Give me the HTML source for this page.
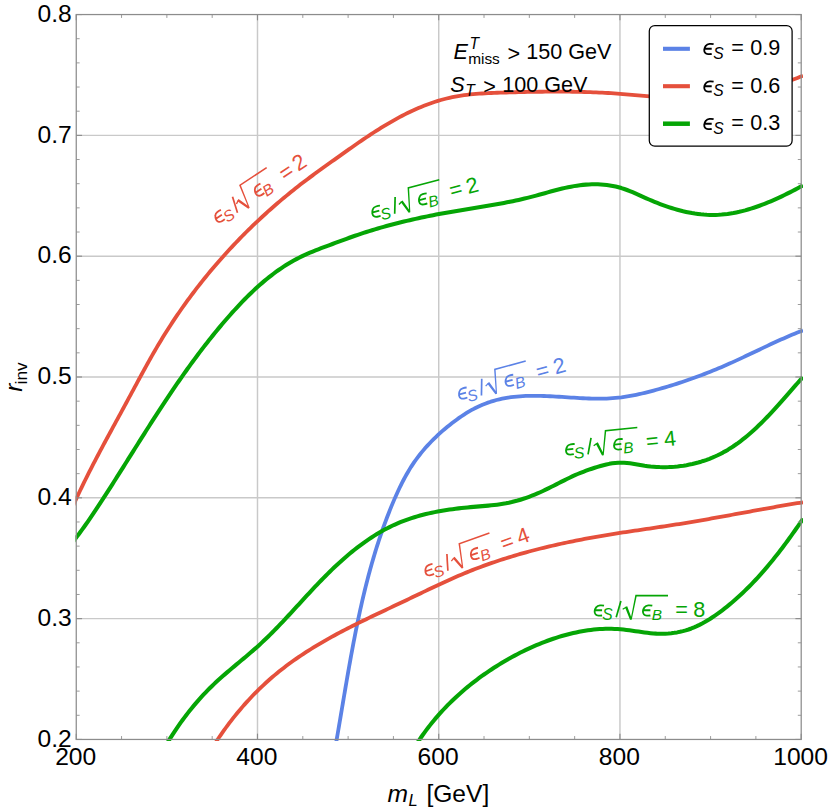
<!DOCTYPE html>
<html><head><meta charset="utf-8"><title>plot</title>
<style>
html,body{margin:0;padding:0;background:#fff;}
body{width:830px;height:812px;overflow:hidden;}
svg{display:block;}
text{font-family:"Liberation Sans",sans-serif;}
.it{font-style:italic;}
</style></head><body>
<svg width="830" height="812" viewBox="0 0 830 812">
<rect width="830" height="812" fill="#fff"/>
<defs><clipPath id="cp"><rect x="75.45" y="14.25" width="727.55" height="726.70"/></clipPath>
<path id="eps" d="M0.524,-0.504C0.46,-0.517 0.40,-0.52 0.335,-0.515C0.26,-0.51 0.20,-0.48 0.167,-0.433C0.12,-0.37 0.092,-0.31 0.089,-0.243C0.087,-0.18 0.10,-0.13 0.134,-0.098C0.165,-0.065 0.21,-0.047 0.268,-0.042C0.33,-0.037 0.39,-0.04 0.435,-0.047M0.123,-0.288L0.435,-0.288" fill="none" stroke-width="0.084" stroke-linecap="butt" stroke-linejoin="round"/>
</defs>
<g stroke="#c9c9c9" stroke-width="1.45" fill="none"><line x1="257.49" y1="14.55" x2="257.49" y2="739.45"/><line x1="438.73" y1="14.55" x2="438.73" y2="739.45"/><line x1="619.96" y1="14.55" x2="619.96" y2="739.45"/><line x1="76.25" y1="618.63" x2="801.2" y2="618.63"/><line x1="76.25" y1="497.82" x2="801.2" y2="497.82"/><line x1="76.25" y1="377.00" x2="801.2" y2="377.00"/><line x1="76.25" y1="256.18" x2="801.2" y2="256.18"/><line x1="76.25" y1="135.37" x2="801.2" y2="135.37"/></g>
<g clip-path="url(#cp)" fill="none" stroke-linecap="butt" stroke-linejoin="round">
<path d="M70.18,512.39L71.38,509.64L72.59,506.89L73.82,504.15L75.06,501.42L76.31,498.69L77.57,495.97L78.84,493.26L80.13,490.55L81.42,487.84L82.73,485.14L84.04,482.45L85.37,479.76L86.70,477.08L88.05,474.40L89.40,471.72L90.76,469.05L92.13,466.38L93.50,463.72L94.88,461.06L96.27,458.40L97.67,455.75L99.07,453.10L100.47,450.45L101.88,447.80L103.29,445.16L104.71,442.52L106.13,439.88L107.56,437.24L108.98,434.60L110.41,431.97L111.85,429.33L113.28,426.70L114.71,424.07L116.15,421.43L117.58,418.80L119.02,416.17L120.45,413.54L121.89,410.90L123.32,408.27L124.75,405.63L126.18,403.00L127.61,400.36L129.03,397.72L130.45,395.09L131.87,392.45L133.29,389.81L134.71,387.17L136.13,384.53L137.55,381.89L138.98,379.25L140.41,376.62L141.84,373.98L143.27,371.35L144.71,368.73L146.16,366.10L147.61,363.48L149.07,360.87L150.54,358.26L152.02,355.65L153.51,353.05L155.00,350.46L156.51,347.87L158.03,345.29L159.57,342.71L161.12,340.15L162.68,337.59L164.25,335.04L165.84,332.49L167.45,329.96L169.06,327.43L170.69,324.92L172.34,322.41L174.00,319.91L175.67,317.41L177.35,314.93L179.05,312.46L180.76,309.99L182.49,307.53L184.23,305.09L185.98,302.65L187.74,300.22L189.52,297.80L191.31,295.39L193.11,292.99L194.93,290.60L196.75,288.22L198.59,285.84L200.45,283.48L202.31,281.13L204.19,278.79L206.08,276.46L207.98,274.14L209.89,271.83L211.82,269.53L213.75,267.24L215.70,264.96L217.66,262.69L219.64,260.43L221.62,258.18L223.62,255.94L225.62,253.71L227.64,251.50L229.67,249.29L231.71,247.09L233.77,244.91L235.83,242.74L237.91,240.57L239.99,238.42L242.09,236.28L244.20,234.15L246.32,232.03L248.45,229.92L250.59,227.83L252.75,225.74L254.91,223.67L257.08,221.60L259.27,219.55L261.46,217.51L263.67,215.48L265.89,213.47L268.11,211.46L270.35,209.47L272.60,207.48L274.85,205.51L277.12,203.56L279.40,201.61L281.69,199.67L283.99,197.75L286.29,195.84L288.61,193.94L290.94,192.05L293.28,190.18L295.62,188.31L297.98,186.46L300.34,184.62L302.72,182.80L305.10,180.98L307.50,179.18L309.90,177.38L312.31,175.60L314.72,173.83L317.14,172.06L319.57,170.30L322.00,168.54L324.43,166.80L326.87,165.05L329.31,163.31L331.75,161.57L334.19,159.83L336.63,158.09L339.08,156.35L341.52,154.62L343.96,152.88L346.40,151.15L348.85,149.42L351.30,147.69L353.76,145.97L356.22,144.26L358.68,142.55L361.16,140.85L363.64,139.16L366.13,137.48L368.63,135.82L371.14,134.16L373.67,132.52L376.20,130.90L378.75,129.29L381.30,127.69L383.87,126.12L386.46,124.57L389.05,123.04L391.66,121.53L394.28,120.05L396.91,118.59L399.55,117.17L402.21,115.77L404.88,114.40L407.56,113.06L410.26,111.76L412.97,110.49L415.69,109.26L418.42,108.07L421.17,106.91L423.94,105.80L426.71,104.72L429.50,103.69L432.31,102.71L435.13,101.77L437.96,100.88L440.81,100.04L443.67,99.24L446.54,98.50L449.43,97.82L452.34,97.19L455.26,96.61L458.19,96.09L461.14,95.62L464.10,95.19L467.07,94.82L470.05,94.48L473.04,94.18L476.04,93.91L479.04,93.68L482.05,93.48L485.07,93.30L488.08,93.14L491.10,93.00L494.13,92.88L497.15,92.77L500.17,92.66L503.19,92.57L506.21,92.48L509.22,92.39L512.24,92.31L515.25,92.23L518.26,92.15L521.27,92.08L524.27,92.01L527.28,91.95L530.28,91.90L533.28,91.85L536.28,91.80L539.28,91.76L542.28,91.73L545.28,91.70L548.27,91.68L551.27,91.67L554.26,91.66L557.26,91.66L560.25,91.66L563.24,91.67L566.24,91.70L569.23,91.72L572.22,91.76L575.21,91.81L578.20,91.86L581.19,91.93L584.18,92.00L587.17,92.09L590.16,92.18L593.15,92.29L596.14,92.41L599.13,92.54L602.12,92.68L605.10,92.84L608.09,93.01L611.08,93.19L614.07,93.39L617.05,93.59L620.04,93.82L623.03,94.06L626.02,94.31L629.00,94.56L631.99,94.83L634.98,95.10L637.97,95.36L640.96,95.63L643.95,95.89L646.95,96.14L649.94,96.38L652.94,96.61L655.93,96.82L658.93,97.02L661.93,97.20L664.93,97.37L667.93,97.51L670.93,97.64L673.93,97.75L676.93,97.85L679.94,97.92L682.94,97.97L685.94,98.00L688.93,98.01L691.93,97.99L694.93,97.95L697.92,97.89L700.92,97.80L703.91,97.69L706.90,97.55L709.89,97.39L712.87,97.20L715.86,96.98L718.84,96.73L721.82,96.45L724.79,96.15L727.76,95.81L730.73,95.44L733.69,95.04L736.65,94.61L739.61,94.14L742.56,93.64L745.50,93.11L748.45,92.54L751.38,91.93L754.31,91.29L757.24,90.61L760.16,89.90L763.07,89.16L765.98,88.38L768.88,87.58L771.77,86.74L774.66,85.87L777.54,84.97L780.40,84.04L783.26,83.09L786.11,82.11L788.95,81.10L791.78,80.06L794.60,79.01L797.41,77.93L800.21,76.82L803.00,75.69" stroke="#e5503c" stroke-width="3.8"/>
<path d="M69.78,545.85L71.65,543.50L73.51,541.14L75.34,538.76L77.15,536.37L78.94,533.97L80.72,531.56L82.48,529.14L84.22,526.70L85.95,524.26L87.67,521.81L89.37,519.35L91.06,516.88L92.74,514.40L94.41,511.92L96.07,509.43L97.72,506.93L99.36,504.43L101.00,501.92L102.63,499.41L104.26,496.90L105.89,494.38L107.51,491.86L109.12,489.34L110.74,486.82L112.35,484.29L113.96,481.76L115.56,479.23L117.17,476.70L118.77,474.16L120.37,471.63L121.97,469.09L123.57,466.56L125.17,464.02L126.77,461.48L128.36,458.94L129.96,456.40L131.55,453.86L133.15,451.32L134.75,448.79L136.35,446.25L137.94,443.71L139.55,441.17L141.15,438.64L142.75,436.11L144.36,433.57L145.96,431.04L147.57,428.51L149.18,425.99L150.80,423.46L152.42,420.94L154.04,418.42L155.67,415.90L157.30,413.39L158.93,410.87L160.57,408.37L162.21,405.86L163.86,403.36L165.51,400.86L167.17,398.36L168.83,395.87L170.50,393.39L172.17,390.90L173.85,388.43L175.54,385.95L177.23,383.48L178.94,381.02L180.64,378.56L182.36,376.11L184.08,373.66L185.81,371.22L187.55,368.78L189.30,366.35L191.06,363.93L192.82,361.51L194.59,359.10L196.38,356.69L198.17,354.29L199.97,351.90L201.79,349.52L203.61,347.14L205.44,344.77L207.29,342.41L209.14,340.06L211.01,337.71L212.89,335.37L214.77,333.04L216.68,330.72L218.59,328.41L220.51,326.10L222.45,323.81L224.40,321.52L226.37,319.24L228.35,316.98L230.34,314.72L232.34,312.47L234.36,310.24L236.40,308.02L238.45,305.81L240.52,303.62L242.60,301.44L244.70,299.28L246.82,297.15L248.96,295.03L251.11,292.94L253.29,290.87L255.48,288.82L257.70,286.80L259.94,284.81L262.20,282.85L264.48,280.92L266.78,279.01L269.11,277.14L271.46,275.31L273.83,273.51L276.23,271.74L278.66,270.02L281.11,268.33L283.59,266.68L286.09,265.08L288.63,263.51L291.19,262.00L293.78,260.52L296.39,259.10L299.04,257.72L301.72,256.39L304.43,255.11L307.17,253.88L309.93,252.68L312.71,251.53L315.51,250.40L318.33,249.31L321.15,248.23L323.98,247.16L326.81,246.11L329.64,245.05L332.46,244.00L335.28,242.95L338.10,241.90L340.91,240.85L343.72,239.81L346.54,238.78L349.36,237.76L352.18,236.76L355.00,235.77L357.83,234.80L360.67,233.85L363.52,232.91L366.36,232.00L369.22,231.10L372.08,230.22L374.94,229.35L377.81,228.50L380.69,227.67L383.57,226.86L386.45,226.06L389.34,225.27L392.24,224.50L395.14,223.75L398.04,223.01L400.94,222.29L403.85,221.58L406.77,220.88L409.69,220.20L412.61,219.53L415.53,218.87L418.46,218.23L421.39,217.59L424.32,216.97L427.26,216.37L430.19,215.77L433.13,215.19L436.08,214.61L439.02,214.05L441.97,213.50L444.92,212.96L447.87,212.43L450.82,211.90L453.78,211.39L456.73,210.89L459.69,210.39L462.64,209.90L465.60,209.42L468.56,208.94L471.52,208.46L474.47,207.98L477.43,207.50L480.39,207.02L483.34,206.53L486.30,206.04L489.25,205.55L492.20,205.04L495.15,204.53L498.10,204.00L501.04,203.47L503.99,202.92L506.93,202.35L509.86,201.77L512.80,201.17L515.73,200.55L518.65,199.92L521.57,199.26L524.49,198.57L527.40,197.87L530.31,197.13L533.21,196.37L536.11,195.59L539.01,194.80L541.90,193.99L544.80,193.18L547.69,192.37L550.59,191.57L553.49,190.79L556.39,190.02L559.30,189.27L562.22,188.56L565.14,187.88L568.07,187.25L571.01,186.66L573.96,186.12L576.92,185.64L579.89,185.23L582.88,184.88L585.88,184.61L588.88,184.41L591.89,184.30L594.89,184.26L597.89,184.30L600.89,184.44L603.88,184.66L606.85,184.98L609.80,185.39L612.74,185.90L615.65,186.51L618.54,187.23L621.40,188.05L624.23,188.98L627.03,189.99L629.81,191.07L632.58,192.22L635.33,193.40L638.07,194.61L640.80,195.84L643.53,197.07L646.26,198.29L649.00,199.50L651.75,200.68L654.51,201.84L657.30,202.97L660.11,204.07L662.93,205.12L665.78,206.14L668.64,207.12L671.51,208.05L674.40,208.93L677.31,209.76L680.22,210.54L683.15,211.27L686.09,211.93L689.03,212.54L691.99,213.09L694.94,213.57L697.91,213.98L700.87,214.33L703.84,214.60L706.81,214.80L709.79,214.92L712.76,214.96L715.72,214.92L718.69,214.79L721.65,214.59L724.60,214.30L727.56,213.95L730.50,213.51L733.44,213.01L736.37,212.44L739.30,211.81L742.21,211.11L745.12,210.36L748.01,209.54L750.90,208.68L753.78,207.76L756.64,206.79L759.49,205.78L762.33,204.72L765.15,203.62L767.97,202.49L770.76,201.32L773.54,200.11L776.31,198.88L779.06,197.62L781.79,196.33L784.50,195.02L787.19,193.69L789.87,192.34L792.52,190.98L795.16,189.61L797.77,188.23L800.36,186.84L802.93,185.45" stroke="#05a505" stroke-width="4.05"/>
<path d="M335.72,744.91L336.24,741.99L336.75,739.07L337.26,736.15L337.76,733.22L338.27,730.29L338.77,727.36L339.27,724.43L339.77,721.49L340.27,718.56L340.76,715.62L341.26,712.68L341.76,709.74L342.25,706.80L342.75,703.85L343.24,700.91L343.74,697.96L344.24,695.02L344.74,692.07L345.24,689.12L345.74,686.18L346.25,683.23L346.75,680.28L347.26,677.33L347.78,674.38L348.29,671.43L348.81,668.49L349.33,665.54L349.86,662.59L350.39,659.64L350.92,656.69L351.46,653.75L352.01,650.80L352.55,647.86L353.11,644.91L353.67,641.97L354.24,639.03L354.81,636.09L355.39,633.15L355.97,630.22L356.56,627.28L357.16,624.35L357.77,621.41L358.39,618.48L359.01,615.56L359.64,612.63L360.28,609.71L360.93,606.79L361.58,603.87L362.25,600.95L362.93,598.04L363.61,595.13L364.31,592.22L365.02,589.32L365.73,586.42L366.46,583.52L367.20,580.62L367.95,577.73L368.71,574.84L369.49,571.96L370.28,569.08L371.07,566.20L371.89,563.33L372.71,560.46L373.55,557.60L374.40,554.74L375.26,551.89L376.14,549.04L377.04,546.19L377.95,543.35L378.87,540.51L379.81,537.68L380.76,534.85L381.73,532.03L382.71,529.22L383.71,526.41L384.73,523.60L385.76,520.80L386.81,518.01L387.88,515.22L388.97,512.44L390.07,509.67L391.19,506.90L392.33,504.13L393.49,501.38L394.66,498.63L395.86,495.89L397.09,493.16L398.34,490.45L399.62,487.75L400.93,485.06L402.27,482.39L403.64,479.75L405.06,477.12L406.51,474.52L408.00,471.94L409.53,469.39L411.10,466.87L412.73,464.38L414.40,461.91L416.12,459.48L417.89,457.09L419.71,454.73L421.57,452.40L423.49,450.11L425.44,447.84L427.44,445.62L429.48,443.42L431.56,441.26L433.68,439.13L435.84,437.04L438.03,434.98L440.25,432.95L442.50,430.95L444.79,428.98L447.10,427.05L449.44,425.15L451.81,423.28L454.20,421.45L456.63,419.66L459.07,417.91L461.55,416.21L464.05,414.56L466.59,412.97L469.15,411.43L471.75,409.96L474.37,408.55L477.03,407.22L479.72,405.96L482.44,404.78L485.19,403.67L487.97,402.64L490.77,401.69L493.60,400.82L496.45,400.03L499.32,399.32L502.21,398.68L505.12,398.12L508.04,397.63L510.97,397.20L513.92,396.85L516.88,396.55L519.86,396.30L522.84,396.11L525.83,395.97L528.83,395.88L531.83,395.83L534.85,395.82L537.86,395.85L540.88,395.91L543.90,395.99L546.92,396.11L549.94,396.24L552.96,396.40L555.98,396.57L558.99,396.75L562.00,396.94L565.01,397.14L568.01,397.33L571.01,397.53L574.00,397.72L576.99,397.90L579.98,398.07L582.96,398.23L585.94,398.37L588.92,398.48L591.89,398.57L594.86,398.63L597.83,398.66L600.79,398.66L603.75,398.61L606.70,398.53L609.66,398.40L612.61,398.22L615.55,397.98L618.50,397.69L621.44,397.35L624.37,396.94L627.31,396.48L630.24,395.97L633.16,395.42L636.08,394.82L639.00,394.18L641.92,393.51L644.83,392.81L647.73,392.09L650.63,391.34L653.53,390.58L656.42,389.79L659.30,388.99L662.18,388.17L665.06,387.34L667.93,386.49L670.79,385.62L673.65,384.73L676.50,383.83L679.35,382.90L682.19,381.97L685.03,381.01L687.86,380.04L690.68,379.06L693.50,378.05L696.31,377.03L699.11,376.00L701.91,374.95L704.70,373.88L707.49,372.80L710.27,371.70L713.04,370.58L715.81,369.45L718.56,368.31L721.32,367.15L724.06,365.97L726.80,364.78L729.53,363.58L732.25,362.36L734.97,361.12L737.68,359.88L740.38,358.62L743.09,357.36L745.79,356.09L748.48,354.81L751.18,353.53L753.87,352.25L756.56,350.97L759.26,349.68L761.95,348.40L764.65,347.12L767.35,345.85L770.05,344.58L772.75,343.32L775.47,342.07L778.18,340.83L780.91,339.60L783.64,338.39L786.38,337.19L789.12,336.01L791.88,334.84L794.65,333.70L797.43,332.58L800.22,331.48L803.02,330.40" stroke="#5b82e6" stroke-width="3.8"/>
<path d="M166.08,745.08L167.63,742.50L169.20,739.93L170.80,737.38L172.41,734.85L174.05,732.33L175.71,729.84L177.40,727.36L179.10,724.89L180.83,722.45L182.59,720.03L184.37,717.63L186.17,715.24L187.99,712.88L189.84,710.53L191.71,708.21L193.61,705.91L195.53,703.63L197.48,701.37L199.45,699.14L201.45,696.92L203.47,694.73L205.52,692.56L207.59,690.42L209.69,688.30L211.82,686.20L213.97,684.13L216.15,682.08L218.35,680.06L220.58,678.05L222.82,676.07L225.08,674.10L227.36,672.14L229.64,670.20L231.94,668.26L234.24,666.33L236.55,664.41L238.86,662.48L241.17,660.56L243.48,658.63L245.78,656.70L248.07,654.77L250.36,652.82L252.63,650.86L254.88,648.89L257.12,646.90L259.34,644.89L261.54,642.87L263.72,640.82L265.88,638.76L268.02,636.68L270.15,634.59L272.26,632.49L274.36,630.37L276.44,628.24L278.52,626.09L280.58,623.94L282.63,621.78L284.68,619.61L286.72,617.43L288.75,615.25L290.78,613.06L292.80,610.87L294.82,608.67L296.84,606.47L298.86,604.27L300.87,602.07L302.89,599.87L304.92,597.67L306.94,595.48L308.97,593.28L311.01,591.09L313.05,588.91L315.10,586.73L317.16,584.56L319.23,582.40L321.32,580.24L323.41,578.10L325.52,575.97L327.64,573.85L329.78,571.74L331.93,569.65L334.11,567.57L336.30,565.51L338.51,563.46L340.74,561.44L342.98,559.43L345.25,557.45L347.53,555.49L349.84,553.55L352.16,551.64L354.50,549.76L356.87,547.91L359.25,546.09L361.66,544.29L364.08,542.54L366.53,540.81L369.00,539.13L371.49,537.48L374.00,535.86L376.53,534.29L379.09,532.76L381.66,531.28L384.27,529.84L386.89,528.44L389.54,527.09L392.21,525.79L394.90,524.54L397.62,523.34L400.36,522.19L403.12,521.10L405.91,520.05L408.72,519.06L411.54,518.11L414.39,517.21L417.26,516.36L420.14,515.55L423.03,514.78L425.94,514.06L428.87,513.37L431.80,512.72L434.75,512.11L437.70,511.54L440.67,510.99L443.64,510.48L446.61,510.01L449.60,509.56L452.58,509.14L455.57,508.74L458.56,508.37L461.55,508.03L464.54,507.70L467.52,507.40L470.51,507.12L473.49,506.86L476.46,506.61L479.43,506.36L482.39,506.12L485.35,505.87L488.30,505.61L491.25,505.32L494.20,505.00L497.14,504.64L500.07,504.24L503.00,503.79L505.93,503.28L508.85,502.70L511.77,502.05L514.68,501.33L517.59,500.55L520.48,499.70L523.36,498.79L526.22,497.82L529.07,496.80L531.89,495.73L534.69,494.61L537.47,493.44L540.23,492.23L542.95,490.98L545.65,489.70L548.33,488.39L551.00,487.06L553.65,485.71L556.30,484.36L558.95,483.01L561.59,481.66L564.25,480.32L566.91,478.99L569.58,477.70L572.27,476.43L574.99,475.20L577.73,474.01L580.50,472.86L583.29,471.76L586.11,470.70L588.95,469.68L591.81,468.71L594.69,467.78L597.58,466.89L600.49,466.04L603.42,465.24L606.35,464.51L609.29,463.87L612.24,463.36L615.19,462.98L618.15,462.75L621.10,462.67L624.05,462.72L627.00,462.90L629.95,463.21L632.89,463.65L635.82,464.18L638.76,464.75L641.71,465.29L644.68,465.77L647.65,466.17L650.63,466.51L653.63,466.77L656.62,466.97L659.63,467.10L662.63,467.16L665.63,467.15L668.64,467.07L671.63,466.92L674.63,466.71L677.61,466.43L680.59,466.07L683.56,465.65L686.51,465.16L689.45,464.60L692.38,463.98L695.28,463.28L698.17,462.52L701.03,461.69L703.87,460.79L706.68,459.82L709.47,458.78L712.23,457.68L714.95,456.50L717.65,455.26L720.30,453.95L722.93,452.58L725.52,451.14L728.07,449.64L730.59,448.08L733.08,446.46L735.54,444.78L737.97,443.06L740.37,441.28L742.74,439.46L745.08,437.60L747.40,435.69L749.69,433.74L751.96,431.75L754.20,429.73L756.42,427.67L758.61,425.59L760.79,423.48L762.94,421.34L765.08,419.18L767.19,417.00L769.29,414.80L771.37,412.59L773.43,410.36L775.48,408.12L777.51,405.88L779.53,403.63L781.53,401.37L783.52,399.12L785.51,396.86L787.48,394.61L789.44,392.37L791.39,390.13L793.34,387.91L795.27,385.70L797.21,383.51L799.13,381.33L801.05,379.18L802.97,377.05" stroke="#05a505" stroke-width="4.05"/>
<path d="M214.06,745.06L215.67,742.54L217.31,740.04L218.97,737.55L220.65,735.08L222.36,732.62L224.09,730.18L225.84,727.75L227.62,725.33L229.42,722.93L231.24,720.55L233.09,718.19L234.96,715.84L236.85,713.51L238.76,711.20L240.70,708.90L242.66,706.63L244.64,704.38L246.65,702.14L248.68,699.93L250.73,697.73L252.80,695.56L254.89,693.41L257.00,691.29L259.14,689.18L261.29,687.10L263.47,685.04L265.67,683.01L267.89,681.00L270.13,679.02L272.39,677.06L274.68,675.13L276.98,673.22L279.30,671.34L281.64,669.49L284.00,667.66L286.38,665.85L288.77,664.06L291.19,662.30L293.62,660.57L296.06,658.85L298.52,657.16L301.00,655.48L303.49,653.83L305.99,652.20L308.51,650.59L311.04,649.00L313.58,647.42L316.14,645.87L318.70,644.33L321.28,642.81L323.87,641.31L326.46,639.82L329.07,638.36L331.68,636.90L334.31,635.46L336.94,634.04L339.58,632.63L342.22,631.24L344.87,629.85L347.53,628.48L350.19,627.13L352.86,625.78L355.54,624.44L358.21,623.11L360.90,621.79L363.58,620.48L366.28,619.17L368.97,617.87L371.67,616.58L374.37,615.29L377.07,614.01L379.78,612.72L382.48,611.44L385.19,610.17L387.90,608.89L390.61,607.61L393.32,606.34L396.03,605.06L398.74,603.78L401.45,602.50L404.16,601.21L406.86,599.92L409.57,598.63L412.27,597.33L414.98,596.03L417.68,594.74L420.39,593.44L423.09,592.14L425.80,590.84L428.50,589.55L431.21,588.27L433.92,586.98L436.64,585.71L439.35,584.44L442.07,583.18L444.80,581.93L447.52,580.69L450.25,579.46L452.99,578.24L455.73,577.03L458.47,575.84L461.22,574.67L463.98,573.51L466.74,572.37L469.51,571.24L472.29,570.14L475.07,569.05L477.86,567.98L480.66,566.93L483.46,565.90L486.27,564.88L489.09,563.88L491.91,562.89L494.73,561.93L497.56,560.98L500.40,560.04L503.24,559.12L506.09,558.22L508.94,557.33L511.80,556.46L514.66,555.60L517.53,554.76L520.40,553.93L523.28,553.12L526.16,552.32L529.05,551.53L531.94,550.76L534.83,550.00L537.73,549.26L540.63,548.53L543.53,547.81L546.44,547.10L549.35,546.41L552.27,545.73L555.19,545.06L558.11,544.40L561.03,543.75L563.96,543.12L566.89,542.50L569.82,541.88L572.76,541.28L575.70,540.69L578.64,540.11L581.58,539.54L584.52,538.98L587.47,538.43L590.42,537.89L593.36,537.36L596.31,536.83L599.27,536.32L602.22,535.81L605.17,535.32L608.13,534.83L611.09,534.35L614.04,533.87L617.00,533.41L619.96,532.94L622.92,532.49L625.88,532.03L628.84,531.59L631.80,531.14L634.76,530.70L637.72,530.26L640.68,529.82L643.64,529.38L646.61,528.95L649.57,528.51L652.53,528.07L655.49,527.64L658.45,527.20L661.41,526.75L664.37,526.31L667.33,525.86L670.29,525.41L673.24,524.95L676.20,524.49L679.15,524.02L682.11,523.54L685.06,523.06L688.02,522.57L690.97,522.08L693.92,521.58L696.87,521.08L699.82,520.57L702.77,520.05L705.72,519.54L708.66,519.02L711.61,518.49L714.56,517.97L717.50,517.44L720.45,516.90L723.40,516.37L726.34,515.83L729.29,515.29L732.23,514.75L735.18,514.21L738.12,513.67L741.07,513.13L744.01,512.59L746.96,512.05L749.90,511.51L752.85,510.97L755.79,510.43L758.74,509.90L761.68,509.36L764.63,508.83L767.58,508.31L770.53,507.78L773.47,507.26L776.42,506.74L779.37,506.23L782.32,505.72L785.27,505.21L788.23,504.71L791.18,504.21L794.13,503.72L797.09,503.24L800.04,502.76L803.00,502.29" stroke="#e5503c" stroke-width="3.8"/>
<path d="M415.93,745.10L417.58,742.54L419.26,740.00L420.96,737.50L422.69,735.02L424.45,732.57L426.24,730.14L428.06,727.74L429.90,725.37L431.77,723.02L433.67,720.70L435.59,718.41L437.54,716.15L439.52,713.91L441.52,711.69L443.54,709.50L445.60,707.34L447.67,705.21L449.77,703.10L451.90,701.01L454.04,698.96L456.21,696.92L458.41,694.92L460.63,692.94L462.87,690.98L465.13,689.05L467.42,687.14L469.72,685.26L472.05,683.41L474.40,681.57L476.77,679.77L479.16,677.99L481.57,676.23L484.00,674.50L486.46,672.79L488.93,671.11L491.42,669.45L493.93,667.81L496.45,666.20L499.00,664.62L501.57,663.05L504.15,661.51L506.75,660.00L509.37,658.51L512.00,657.05L514.65,655.61L517.31,654.20L520.00,652.82L522.69,651.47L525.40,650.15L528.13,648.85L530.86,647.60L533.62,646.37L536.38,645.18L539.16,644.02L541.95,642.89L544.75,641.80L547.56,640.75L550.38,639.73L553.22,638.76L556.06,637.82L558.91,636.92L561.77,636.06L564.64,635.25L567.52,634.47L570.41,633.74L573.30,633.05L576.21,632.41L579.11,631.81L582.03,631.27L584.95,630.77L587.88,630.33L590.82,629.94L593.76,629.60L596.70,629.32L599.66,629.10L602.62,628.93L605.58,628.83L608.55,628.79L611.52,628.82L614.50,628.91L617.48,629.07L620.47,629.29L623.46,629.59L626.45,629.94L629.45,630.32L632.45,630.74L635.44,631.18L638.44,631.61L641.44,632.04L644.44,632.45L647.44,632.82L650.44,633.15L653.43,633.42L656.42,633.61L659.41,633.72L662.39,633.74L665.36,633.66L668.32,633.49L671.27,633.22L674.20,632.85L677.11,632.38L680.01,631.81L682.88,631.13L685.72,630.35L688.53,629.47L691.32,628.48L694.07,627.38L696.79,626.18L699.47,624.90L702.13,623.53L704.76,622.08L707.35,620.55L709.91,618.97L712.45,617.32L714.95,615.62L717.43,613.88L719.87,612.09L722.29,610.27L724.68,608.42L727.04,606.55L729.38,604.65L731.69,602.72L733.97,600.77L736.22,598.79L738.46,596.79L740.66,594.77L742.85,592.73L745.00,590.66L747.14,588.57L749.25,586.46L751.35,584.32L753.42,582.17L755.47,580.00L757.50,577.81L759.50,575.60L761.49,573.38L763.47,571.14L765.42,568.88L767.35,566.60L769.27,564.31L771.17,562.01L773.06,559.69L774.92,557.36L776.78,555.01L778.62,552.66L780.44,550.29L782.25,547.91L784.05,545.51L785.84,543.11L787.61,540.70L789.37,538.28L791.12,535.85L792.86,533.42L794.59,530.98L796.31,528.53L798.02,526.07L799.73,523.61L801.42,521.14L803.11,518.67" stroke="#05a505" stroke-width="4.05"/>
</g>
<g stroke="#9c9c9c" stroke-width="1.0" fill="none"><line x1="121.56" y1="739.45" x2="121.56" y2="736.05"/><line x1="121.56" y1="14.55" x2="121.56" y2="17.95"/><line x1="166.87" y1="739.45" x2="166.87" y2="736.05"/><line x1="166.87" y1="14.55" x2="166.87" y2="17.95"/><line x1="212.18" y1="739.45" x2="212.18" y2="736.05"/><line x1="212.18" y1="14.55" x2="212.18" y2="17.95"/><line x1="302.80" y1="739.45" x2="302.80" y2="736.05"/><line x1="302.80" y1="14.55" x2="302.80" y2="17.95"/><line x1="348.11" y1="739.45" x2="348.11" y2="736.05"/><line x1="348.11" y1="14.55" x2="348.11" y2="17.95"/><line x1="393.42" y1="739.45" x2="393.42" y2="736.05"/><line x1="393.42" y1="14.55" x2="393.42" y2="17.95"/><line x1="484.03" y1="739.45" x2="484.03" y2="736.05"/><line x1="484.03" y1="14.55" x2="484.03" y2="17.95"/><line x1="529.34" y1="739.45" x2="529.34" y2="736.05"/><line x1="529.34" y1="14.55" x2="529.34" y2="17.95"/><line x1="574.65" y1="739.45" x2="574.65" y2="736.05"/><line x1="574.65" y1="14.55" x2="574.65" y2="17.95"/><line x1="665.27" y1="739.45" x2="665.27" y2="736.05"/><line x1="665.27" y1="14.55" x2="665.27" y2="17.95"/><line x1="710.58" y1="739.45" x2="710.58" y2="736.05"/><line x1="710.58" y1="14.55" x2="710.58" y2="17.95"/><line x1="755.89" y1="739.45" x2="755.89" y2="736.05"/><line x1="755.89" y1="14.55" x2="755.89" y2="17.95"/><line x1="76.25" y1="715.29" x2="79.65" y2="715.29"/><line x1="801.2" y1="715.29" x2="797.80" y2="715.29"/><line x1="76.25" y1="691.12" x2="79.65" y2="691.12"/><line x1="801.2" y1="691.12" x2="797.80" y2="691.12"/><line x1="76.25" y1="666.96" x2="79.65" y2="666.96"/><line x1="801.2" y1="666.96" x2="797.80" y2="666.96"/><line x1="76.25" y1="642.80" x2="79.65" y2="642.80"/><line x1="801.2" y1="642.80" x2="797.80" y2="642.80"/><line x1="76.25" y1="594.47" x2="79.65" y2="594.47"/><line x1="801.2" y1="594.47" x2="797.80" y2="594.47"/><line x1="76.25" y1="570.31" x2="79.65" y2="570.31"/><line x1="801.2" y1="570.31" x2="797.80" y2="570.31"/><line x1="76.25" y1="546.14" x2="79.65" y2="546.14"/><line x1="801.2" y1="546.14" x2="797.80" y2="546.14"/><line x1="76.25" y1="521.98" x2="79.65" y2="521.98"/><line x1="801.2" y1="521.98" x2="797.80" y2="521.98"/><line x1="76.25" y1="473.65" x2="79.65" y2="473.65"/><line x1="801.2" y1="473.65" x2="797.80" y2="473.65"/><line x1="76.25" y1="449.49" x2="79.65" y2="449.49"/><line x1="801.2" y1="449.49" x2="797.80" y2="449.49"/><line x1="76.25" y1="425.33" x2="79.65" y2="425.33"/><line x1="801.2" y1="425.33" x2="797.80" y2="425.33"/><line x1="76.25" y1="401.16" x2="79.65" y2="401.16"/><line x1="801.2" y1="401.16" x2="797.80" y2="401.16"/><line x1="76.25" y1="352.84" x2="79.65" y2="352.84"/><line x1="801.2" y1="352.84" x2="797.80" y2="352.84"/><line x1="76.25" y1="328.67" x2="79.65" y2="328.67"/><line x1="801.2" y1="328.67" x2="797.80" y2="328.67"/><line x1="76.25" y1="304.51" x2="79.65" y2="304.51"/><line x1="801.2" y1="304.51" x2="797.80" y2="304.51"/><line x1="76.25" y1="280.35" x2="79.65" y2="280.35"/><line x1="801.2" y1="280.35" x2="797.80" y2="280.35"/><line x1="76.25" y1="232.02" x2="79.65" y2="232.02"/><line x1="801.2" y1="232.02" x2="797.80" y2="232.02"/><line x1="76.25" y1="207.86" x2="79.65" y2="207.86"/><line x1="801.2" y1="207.86" x2="797.80" y2="207.86"/><line x1="76.25" y1="183.69" x2="79.65" y2="183.69"/><line x1="801.2" y1="183.69" x2="797.80" y2="183.69"/><line x1="76.25" y1="159.53" x2="79.65" y2="159.53"/><line x1="801.2" y1="159.53" x2="797.80" y2="159.53"/><line x1="76.25" y1="111.20" x2="79.65" y2="111.20"/><line x1="801.2" y1="111.20" x2="797.80" y2="111.20"/><line x1="76.25" y1="87.04" x2="79.65" y2="87.04"/><line x1="801.2" y1="87.04" x2="797.80" y2="87.04"/><line x1="76.25" y1="62.88" x2="79.65" y2="62.88"/><line x1="801.2" y1="62.88" x2="797.80" y2="62.88"/><line x1="76.25" y1="38.71" x2="79.65" y2="38.71"/><line x1="801.2" y1="38.71" x2="797.80" y2="38.71"/></g>
<g stroke="#8a8a8a" stroke-width="1.1" fill="none"><line x1="76.25" y1="739.45" x2="76.25" y2="733.65"/><line x1="76.25" y1="14.55" x2="76.25" y2="20.35"/><line x1="257.49" y1="739.45" x2="257.49" y2="733.65"/><line x1="257.49" y1="14.55" x2="257.49" y2="20.35"/><line x1="438.73" y1="739.45" x2="438.73" y2="733.65"/><line x1="438.73" y1="14.55" x2="438.73" y2="20.35"/><line x1="619.96" y1="739.45" x2="619.96" y2="733.65"/><line x1="619.96" y1="14.55" x2="619.96" y2="20.35"/><line x1="801.20" y1="739.45" x2="801.20" y2="733.65"/><line x1="801.20" y1="14.55" x2="801.20" y2="20.35"/><line x1="76.25" y1="739.45" x2="82.05" y2="739.45"/><line x1="801.2" y1="739.45" x2="795.40" y2="739.45"/><line x1="76.25" y1="618.63" x2="82.05" y2="618.63"/><line x1="801.2" y1="618.63" x2="795.40" y2="618.63"/><line x1="76.25" y1="497.82" x2="82.05" y2="497.82"/><line x1="801.2" y1="497.82" x2="795.40" y2="497.82"/><line x1="76.25" y1="377.00" x2="82.05" y2="377.00"/><line x1="801.2" y1="377.00" x2="795.40" y2="377.00"/><line x1="76.25" y1="256.18" x2="82.05" y2="256.18"/><line x1="801.2" y1="256.18" x2="795.40" y2="256.18"/><line x1="76.25" y1="135.37" x2="82.05" y2="135.37"/><line x1="801.2" y1="135.37" x2="795.40" y2="135.37"/><line x1="76.25" y1="14.55" x2="82.05" y2="14.55"/><line x1="801.2" y1="14.55" x2="795.40" y2="14.55"/></g>
<g stroke="#8c8c8c" stroke-width="1.25" fill="none"><rect x="76.25" y="14.55" width="724.95" height="724.90"/></g>
<g font-size="24.6px">
<text x="71.8" y="746.65" text-anchor="end">0.2</text>
<text x="71.8" y="625.83" text-anchor="end">0.3</text>
<text x="71.8" y="505.02" text-anchor="end">0.4</text>
<text x="71.8" y="384.20" text-anchor="end">0.5</text>
<text x="71.8" y="263.38" text-anchor="end">0.6</text>
<text x="71.8" y="142.57" text-anchor="end">0.7</text>
<text x="71.8" y="21.75" text-anchor="end">0.8</text>
<text x="75.65" y="765.4" text-anchor="middle">200</text>
<text x="256.89" y="765.4" text-anchor="middle">400</text>
<text x="438.12" y="765.4" text-anchor="middle">600</text>
<text x="619.36" y="765.4" text-anchor="middle">800</text>
<text x="800.60" y="765.4" text-anchor="middle">1000</text>
</g>
<g font-size="24.6px">
<text x="387.4" y="802.4" class="it">m</text>
<text x="408.4" y="806.2" class="it" font-size="16.5px">L</text>
<text x="426.4" y="802.4">[GeV]</text>
<g transform="translate(22.2,391.8) rotate(-90)">
<text x="0" y="0" class="it">r</text>
<text x="7.4" y="4.6" font-size="17.2px">inv</text>
</g>
</g>
<g font-size="21.6px">
<text x="453.6" y="59.0" class="it">E</text>
<text x="469.6" y="48.6" class="it" font-size="15.6px">T</text>
<text x="468.2" y="63.8" font-size="15.4px">miss</text>
<text x="507.6" y="60.8">&gt;</text>
<text x="526.3" y="59.0">150</text>
<text x="568.2" y="59.0">GeV</text>
<text x="450.2" y="92.4" class="it">S</text>
<text x="465.2" y="96.0" class="it" font-size="15.6px">T</text>
<text x="483.2" y="94.4">&gt;</text>
<text x="502.3" y="92.4">100</text>
<text x="544.2" y="92.4">GeV</text>
</g>
<rect x="649.3" y="25.5" width="142.8" height="120.7" rx="5.5" ry="5.5" fill="#fff" stroke="#000" stroke-width="1.25"/>
<g stroke-width="4.1" fill="none">
<line x1="663" y1="48.8" x2="689.9" y2="48.8" stroke="#5b82e6"/>
<line x1="663" y1="86.2" x2="689.9" y2="86.2" stroke="#e5503c"/>
<line x1="663" y1="123.7" x2="689.9" y2="123.7" stroke="#05a505" stroke-width="4.5"/>
</g>
<g font-size="21.6px"><use href="#eps" transform="translate(702.3,55.0) scale(21.6)" stroke="#000"/><text x="713.2" y="58.7" class="it" font-size="15.6px">S</text><text x="731.3" y="55.0">=</text><text x="750.3" y="55.0">0.9</text></g>
<g font-size="21.6px"><use href="#eps" transform="translate(702.3,92.5) scale(21.6)" stroke="#000"/><text x="713.2" y="96.2" class="it" font-size="15.6px">S</text><text x="731.3" y="92.5">=</text><text x="750.3" y="92.5">0.6</text></g>
<g font-size="21.6px"><use href="#eps" transform="translate(702.3,130.0) scale(21.6)" stroke="#000"/><text x="713.2" y="133.7" class="it" font-size="15.6px">S</text><text x="731.3" y="130.0">=</text><text x="750.3" y="130.0">0.3</text></g>
<g transform="translate(217.5,225.2) rotate(-33.5)" fill="#e5503c" stroke="none" font-size="21.6px"><use href="#eps" transform="scale(21.6)" stroke="#e5503c"/><text x="9.6" y="3.7" class="it" font-size="15.6px" fill="#e5503c">S</text><path d="M23.5,0.7L28.200000000000003,-15.4" stroke="#e5503c" stroke-width="1.7" fill="none"/><path transform="translate(-2.5,0)" d="M30.0,-7.2L33.0,-9.0" stroke="#e5503c" stroke-width="1.3" fill="none"/><path transform="translate(-2.5,0)" d="M32.2,-9.4L34.5,-10.2L38.4,0.2L42.7,-21.7L75.3,-21.7L75.3,-20.1L43.9,-20.1L39.0,3.2L37.3,3.2L32.2,-9.4Z" fill="#e5503c"/><use href="#eps" transform="translate(47.4,0) scale(21.6)" stroke="#e5503c"/><text x="56.7" y="3.6" class="it" font-size="15.4px" fill="#e5503c">B</text><text x="80.5" y="0.8" fill="#e5503c">=</text><text x="96.7" y="0" fill="#e5503c">2</text></g>
<g transform="translate(371.8,219.1) rotate(-14.8)" fill="#05a505" stroke="none" font-size="21.6px"><use href="#eps" transform="scale(21.6)" stroke="#05a505"/><text x="9.6" y="3.7" class="it" font-size="15.6px" fill="#05a505">S</text><path d="M23.5,0.7L28.200000000000003,-15.4" stroke="#05a505" stroke-width="1.7" fill="none"/><path transform="translate(0,0)" d="M30.0,-7.2L33.0,-9.0" stroke="#05a505" stroke-width="1.3" fill="none"/><path transform="translate(0,0)" d="M32.2,-9.4L34.5,-10.2L38.4,0.2L42.7,-21.7L75.3,-21.7L75.3,-20.1L43.9,-20.1L39.0,3.2L37.3,3.2L32.2,-9.4Z" fill="#05a505"/><use href="#eps" transform="translate(48.3,0) scale(21.6)" stroke="#05a505"/><text x="59.0" y="3.6" class="it" font-size="15.4px" fill="#05a505">B</text><text x="82.5" y="0" fill="#05a505">=</text><text x="99.8" y="0.3" fill="#05a505">2</text></g>
<g transform="translate(458.6,401.0) rotate(-15.3)" fill="#5b82e6" stroke="none" font-size="21.6px"><use href="#eps" transform="scale(21.6)" stroke="#5b82e6"/><text x="9.6" y="3.7" class="it" font-size="15.6px" fill="#5b82e6">S</text><path d="M23.5,0.7L28.200000000000003,-15.4" stroke="#5b82e6" stroke-width="1.7" fill="none"/><path transform="translate(0,0)" d="M30.0,-7.2L33.0,-9.0" stroke="#5b82e6" stroke-width="1.3" fill="none"/><path transform="translate(0,0)" d="M32.2,-9.4L34.5,-10.2L38.4,0.2L42.7,-21.7L75.3,-21.7L75.3,-20.1L43.9,-20.1L39.0,3.2L37.3,3.2L32.2,-9.4Z" fill="#5b82e6"/><use href="#eps" transform="translate(48.3,0) scale(21.6)" stroke="#5b82e6"/><text x="59.0" y="3.6" class="it" font-size="15.4px" fill="#5b82e6">B</text><text x="82.5" y="0" fill="#5b82e6">=</text><text x="100.5" y="0" fill="#5b82e6">2</text></g>
<g transform="translate(564.6,456.1) rotate(-6.0)" fill="#05a505" stroke="none" font-size="21.6px"><use href="#eps" transform="scale(21.6)" stroke="#05a505"/><text x="9.6" y="3.7" class="it" font-size="15.6px" fill="#05a505">S</text><path d="M23.5,0.7L28.200000000000003,-15.4" stroke="#05a505" stroke-width="1.7" fill="none"/><path transform="translate(0,0)" d="M30.0,-7.2L33.0,-9.0" stroke="#05a505" stroke-width="1.3" fill="none"/><path transform="translate(0,0)" d="M32.2,-9.4L34.5,-10.2L38.4,0.2L42.7,-21.7L75.3,-21.7L75.3,-20.1L43.9,-20.1L39.0,3.2L37.3,3.2L32.2,-9.4Z" fill="#05a505"/><use href="#eps" transform="translate(48.3,0) scale(21.6)" stroke="#05a505"/><text x="59.0" y="3.6" class="it" font-size="15.4px" fill="#05a505">B</text><text x="82.5" y="1.3" fill="#05a505">=</text><text x="100.5" y="1.0" fill="#05a505">4</text></g>
<g transform="translate(425.5,578.0) rotate(-19.6)" fill="#e5503c" stroke="none" font-size="21.6px"><use href="#eps" transform="scale(21.6)" stroke="#e5503c"/><text x="9.6" y="3.7" class="it" font-size="15.6px" fill="#e5503c">S</text><path d="M23.5,0.7L28.200000000000003,-15.4" stroke="#e5503c" stroke-width="1.7" fill="none"/><path transform="translate(0,0)" d="M30.0,-7.2L33.0,-9.0" stroke="#e5503c" stroke-width="1.3" fill="none"/><path transform="translate(0,0)" d="M32.2,-9.4L34.5,-10.2L38.4,0.2L42.7,-21.7L75.3,-21.7L75.3,-20.1L43.9,-20.1L39.0,3.2L37.3,3.2L32.2,-9.4Z" fill="#e5503c"/><use href="#eps" transform="translate(48.3,0) scale(21.6)" stroke="#e5503c"/><text x="59.0" y="3.6" class="it" font-size="15.4px" fill="#e5503c">B</text><text x="82.5" y="0.8" fill="#e5503c">=</text><text x="100.0" y="0.3" fill="#e5503c">4</text></g>
<g transform="translate(592.7,616.5) rotate(0)" fill="#05a505" stroke="none" font-size="21.6px"><use href="#eps" transform="scale(21.6)" stroke="#05a505"/><text x="9.6" y="3.7" class="it" font-size="15.6px" fill="#05a505">S</text><path d="M23.5,0.7L28.200000000000003,-15.4" stroke="#05a505" stroke-width="1.7" fill="none"/><path transform="translate(0,0)" d="M30.0,-7.2L33.0,-9.0" stroke="#05a505" stroke-width="1.3" fill="none"/><path transform="translate(0,0)" d="M32.2,-9.4L34.5,-10.2L38.4,0.2L42.7,-21.7L75.3,-21.7L75.3,-20.1L43.9,-20.1L39.0,3.2L37.3,3.2L32.2,-9.4Z" fill="#05a505"/><use href="#eps" transform="translate(48.3,0) scale(21.6)" stroke="#05a505"/><text x="59.0" y="3.6" class="it" font-size="15.4px" fill="#05a505">B</text><text x="82.5" y="0" fill="#05a505">=</text><text x="100.5" y="0" fill="#05a505">8</text></g>
</svg></body></html>
